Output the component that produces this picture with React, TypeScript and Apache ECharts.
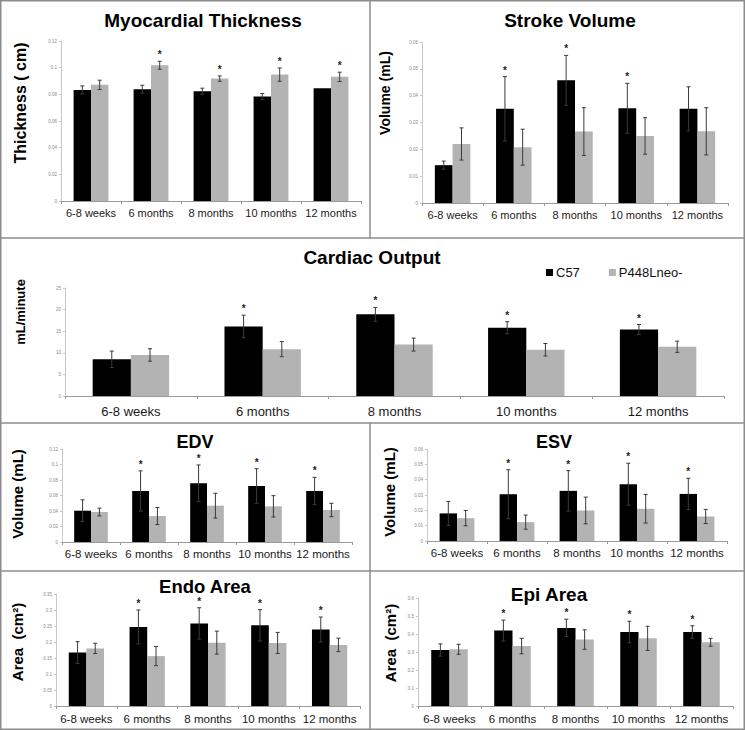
import React, { useEffect, useRef } from "react";
import * as echarts from "echarts";

const categories = ["6-8 weeks", "6 months", "8 months", "10 months", "12 months"];
const seriesNames = ["C57", "P448Lneo-"];

const thicknessC57 = [0.0833, 0.0838, 0.0823, 0.0783, 0.0846];
const thicknessC57Err = [0.003, 0.003, 0.0023, 0.0023, 0];
const thicknessP448 = [0.0871, 0.1018, 0.0918, 0.0948, 0.0931];
const thicknessP448Err = [0.0035, 0.003, 0.002, 0.005, 0.0035];
const thicknessStarsP448 = [0, 1, 1, 1, 1];

const svC57 = [0.0141, 0.0351, 0.0457, 0.0353, 0.0351];
const svC57Err = [0.0015, 0.012, 0.0093, 0.0093, 0.0082];
const svP448 = [0.022, 0.0208, 0.0266, 0.025, 0.0267];
const svP448Err = [0.006, 0.0067, 0.0089, 0.0068, 0.0088];
const svStarsC57 = [0, 1, 1, 1, 0];

const coC57 = [8.5, 16.1, 18.9, 15.8, 15.4];
const coC57Err = [1.9, 2.6, 1.6, 1.4, 1.15];
const coP448 = [9.5, 10.85, 11.9, 10.7, 11.4];
const coP448Err = [1.45, 1.75, 1.5, 1.45, 1.3];
const coStarsC57 = [0, 1, 1, 1, 1];

const edvC57 = [0.0404, 0.0658, 0.0757, 0.0723, 0.0658];
const edvC57Err = [0.014, 0.026, 0.0237, 0.0223, 0.0176];
const edvP448 = [0.0387, 0.0335, 0.0469, 0.046, 0.0413];
const edvP448Err = [0.005, 0.011, 0.016, 0.0138, 0.0086];
const edvStarsC57 = [0, 1, 1, 1, 1];

const esvC57 = [0.018, 0.0305, 0.0327, 0.037, 0.0307];
const esvC57Err = [0.0078, 0.016, 0.0132, 0.0137, 0.0102];
const esvP448 = [0.0149, 0.0123, 0.0199, 0.021, 0.016];
const esvP448Err = [0.005, 0.0046, 0.0087, 0.0093, 0.0046];
const esvStarsC57 = [0, 1, 1, 1, 1];

const endoC57 = [0.167, 0.247, 0.258, 0.252, 0.239];
const endoC57Err = [0.034, 0.053, 0.049, 0.049, 0.039];
const endoP448 = [0.18, 0.156, 0.198, 0.197, 0.191];
const endoP448Err = [0.016, 0.03, 0.036, 0.033, 0.021];
const endoStarsC57 = [0, 1, 1, 1, 1];

const epiC57 = [0.311, 0.419, 0.434, 0.411, 0.411];
const epiC57Err = [0.034, 0.058, 0.048, 0.06, 0.035];
const epiP448 = [0.315, 0.333, 0.369, 0.376, 0.354];
const epiP448Err = [0.028, 0.043, 0.054, 0.067, 0.022];
const epiStarsC57 = [0, 1, 1, 1, 1];

const noStars = [0, 0, 0, 0, 0];

const FONT = "'Liberation Sans', Arial, sans-serif";
const BAR_FRAC = 0.29;

type Panel = {
  title: string;
  yName: string;
  c57: number[];
  c57Err: number[];
  p448: number[];
  p448Err: number[];
  starsC57: number[];
  starsP448: number[];
  max: number;
  interval: number;
  grid: { left: number; top: number; width: number; height: number };
  titlePos: [number, number];
  titleSize: number;
  yNamePos: [number, number];
  yNameSize: number;
  xLabelSize: number;
  xLabelMargin: number;
};

const panels: Panel[] = [
  {
    title: "Myocardial Thickness", yName: "Thickness ( cm)",
    c57: thicknessC57, c57Err: thicknessC57Err, p448: thicknessP448, p448Err: thicknessP448Err,
    starsC57: noStars, starsP448: thicknessStarsP448, max: 0.12, interval: 0.02,
    grid: { left: 61, top: 41, width: 300, height: 160 },
    titlePos: [203, 20], titleSize: 19, yNamePos: [20, 103], yNameSize: 16, xLabelSize: 11, xLabelMargin: 6,
  },
  {
    title: "Stroke Volume", yName: "Volume (mL)",
    c57: svC57, c57Err: svC57Err, p448: svP448, p448Err: svP448Err,
    starsC57: svStarsC57, starsP448: noStars, max: 0.06, interval: 0.01,
    grid: { left: 422, top: 42, width: 306, height: 161 },
    titlePos: [570, 20], titleSize: 19, yNamePos: [385, 93], yNameSize: 14, xLabelSize: 11, xLabelMargin: 6,
  },
  {
    title: "Cardiac Output", yName: "mL/minute",
    c57: coC57, c57Err: coC57Err, p448: coP448, p448Err: coP448Err,
    starsC57: coStarsC57, starsP448: noStars, max: 25, interval: 5,
    grid: { left: 65, top: 288, width: 659, height: 108 },
    titlePos: [372, 257], titleSize: 19, yNamePos: [20, 312], yNameSize: 13, xLabelSize: 13, xLabelMargin: 9,
  },
  {
    title: "EDV", yName: "Volume (mL)",
    c57: edvC57, c57Err: edvC57Err, p448: edvP448, p448Err: edvP448Err,
    starsC57: edvStarsC57, starsP448: noStars, max: 0.12, interval: 0.02,
    grid: { left: 62, top: 449, width: 290, height: 93 },
    titlePos: [195, 442], titleSize: 18, yNamePos: [17, 494], yNameSize: 15, xLabelSize: 11.5, xLabelMargin: 6,
  },
  {
    title: "ESV", yName: "Volume (mL)",
    c57: esvC57, c57Err: esvC57Err, p448: esvP448, p448Err: esvP448Err,
    starsC57: esvStarsC57, starsP448: noStars, max: 0.06, interval: 0.01,
    grid: { left: 427, top: 449, width: 300, height: 92 },
    titlePos: [554, 442], titleSize: 18, yNamePos: [389, 492], yNameSize: 15, xLabelSize: 11.5, xLabelMargin: 6,
  },
  {
    title: "Endo Area", yName: "Area  (cm²)",
    c57: endoC57, c57Err: endoC57Err, p448: endoP448, p448Err: endoP448Err,
    starsC57: endoStarsC57, starsP448: noStars, max: 0.35, interval: 0.05,
    grid: { left: 56, top: 594, width: 304, height: 112 },
    titlePos: [205, 586], titleSize: 18.5, yNamePos: [17, 642], yNameSize: 15, xLabelSize: 11.5, xLabelMargin: 7,
  },
  {
    title: "Epi Area", yName: "Area  (cm²)",
    c57: epiC57, c57Err: epiC57Err, p448: epiP448, p448Err: epiP448Err,
    starsC57: epiStarsC57, starsP448: noStars, max: 0.6, interval: 0.1,
    grid: { left: 418, top: 598, width: 315, height: 108 },
    titlePos: [549, 594], titleSize: 19, yNamePos: [390, 643], yNameSize: 15, xLabelSize: 11.5, xLabelMargin: 7,
  },
];

function buildOption() {
  const grid: any[] = [];
  const xAxis: any[] = [];
  const yAxis: any[] = [];
  const series: any[] = [];
  const graphic: any[] = [];

  panels.forEach((p, i) => {
    grid.push({ ...p.grid, containLabel: false });
    xAxis.push({
      type: "category",
      gridIndex: i,
      data: categories,
      boundaryGap: true,
      axisLine: { lineStyle: { color: "#9a9a9a", width: 1 } },
      axisTick: { show: true, length: 3, lineStyle: { color: "#9a9a9a" } },
      axisLabel: { fontSize: p.xLabelSize, color: "#1a1a1a", margin: p.xLabelMargin, fontFamily: FONT, interval: 0 },
      splitLine: { show: false },
    });
    yAxis.push({
      type: "value",
      gridIndex: i,
      min: 0,
      max: p.max,
      interval: p.interval,
      axisLine: { show: true, lineStyle: { color: "#c8c8c8", width: 1 } },
      axisTick: { show: true, length: 2, lineStyle: { color: "#c8c8c8" } },
      axisLabel: { fontSize: 4.5, color: "#8a8a8a", margin: 4, fontFamily: FONT },
      splitLine: { show: false },
    });
    series.push({
      type: "bar",
      name: seriesNames[0],
      xAxisIndex: i,
      yAxisIndex: i,
      data: p.c57,
      barWidth: BAR_FRAC * 100 + "%",
      barGap: "0%",
      itemStyle: { color: "#000000" },
    });
    series.push({
      type: "bar",
      name: seriesNames[1],
      xAxisIndex: i,
      yAxisIndex: i,
      data: p.p448,
      barWidth: BAR_FRAC * 100 + "%",
      barGap: "0%",
      itemStyle: { color: "#b3b3b3" },
    });
    const errData: number[][] = [];
    categories.forEach((_, ci) => {
      errData.push([ci, p.c57[ci], p.c57Err[ci], 0, p.starsC57[ci]]);
      errData.push([ci, p.p448[ci], p.p448Err[ci], 1, p.starsP448[ci]]);
    });
    series.push({
      type: "custom",
      xAxisIndex: i,
      yAxisIndex: i,
      data: errData,
      encode: { x: 0, y: 1 },
      z: 5,
      silent: true,
      renderItem: (params: any, api: any) => {
        const ci = api.value(0);
        const v = api.value(1);
        const e = api.value(2);
        const s = api.value(3);
        const star = api.value(4);
        const band = api.size([1, 0])[0];
        const bw = band * BAR_FRAC;
        const cx = api.coord([ci, 0])[0] + (s === 0 ? -bw / 2 : bw / 2);
        const yTop = api.coord([ci, v + e])[1];
        const yBot = api.coord([ci, v - e])[1];
        const children: any[] = [];
        const ls = { stroke: "#3a3a3a", lineWidth: 1 };
        if (e > 0) {
          children.push({ type: "line", shape: { x1: cx, y1: yTop, x2: cx, y2: yBot }, style: ls });
          children.push({ type: "line", shape: { x1: cx - 2, y1: yTop, x2: cx + 2, y2: yTop }, style: ls });
          children.push({ type: "line", shape: { x1: cx - 2, y1: yBot, x2: cx + 2, y2: yBot }, style: ls });
        }
        if (star) {
          children.push({
            type: "text",
            style: {
              text: "*",
              x: cx,
              y: yTop - 1.5,
              align: "center",
              verticalAlign: "bottom",
              textAlign: "center",
              textVerticalAlign: "bottom",
              font: "bold 10px " + FONT,
              fill: "#222",
            },
          });
        }
        return { type: "group", children };
      },
    });

    graphic.push({
      type: "text",
      x: p.titlePos[0],
      y: p.titlePos[1],
      style: {
        text: p.title,
        font: "bold " + p.titleSize + "px " + FONT,
        fill: "#000",
        align: "center",
        verticalAlign: "middle",
        textAlign: "center",
        textVerticalAlign: "middle",
      },
    });
    graphic.push({
      type: "text",
      x: p.yNamePos[0],
      y: p.yNamePos[1],
      rotation: Math.PI / 2,
      style: {
        text: p.yName,
        font: "bold " + p.yNameSize + "px " + FONT,
        fill: "#000",
        align: "center",
        verticalAlign: "middle",
        textAlign: "center",
        textVerticalAlign: "middle",
      },
    });
  });

  const border = { stroke: "#8c8c8c", lineWidth: 1.5 };
  graphic.push({ type: "rect", shape: { x: 0.75, y: 0.75, width: 743.5, height: 728.5 }, style: { ...border, fill: "none" }, silent: true });
  graphic.push({ type: "line", shape: { x1: 0, y1: 238, x2: 745, y2: 238 }, style: border, silent: true });
  graphic.push({ type: "line", shape: { x1: 0, y1: 423, x2: 745, y2: 423 }, style: border, silent: true });
  graphic.push({ type: "line", shape: { x1: 0, y1: 571, x2: 745, y2: 571 }, style: border, silent: true });
  graphic.push({ type: "line", shape: { x1: 370, y1: 0, x2: 370, y2: 238 }, style: border, silent: true });
  graphic.push({ type: "line", shape: { x1: 370, y1: 423, x2: 370, y2: 730 }, style: border, silent: true });

  return {
    animation: false,
    backgroundColor: "#ffffff",
    textStyle: { fontFamily: FONT },
    grid,
    xAxis,
    yAxis,
    series,
    graphic,
    legend: {
      data: seriesNames,
      left: 546,
      top: 266,
      icon: "rect",
      itemWidth: 7,
      itemHeight: 7,
      itemGap: 29,
      padding: 0,
      selectedMode: false,
      textStyle: { fontSize: 13, color: "#111", fontFamily: FONT, padding: [0, 0, 0, -2] },
    },
  };
}

export default function App() {
  const ref = useRef<HTMLDivElement>(null);
  useEffect(() => {
    document.body.style.margin = "0";
    if (!ref.current) return;
    const chart = echarts.init(ref.current, undefined, { renderer: "svg" });
    chart.setOption(buildOption() as any);
    return () => chart.dispose();
  }, []);
  return <div ref={ref} style={{ width: 745, height: 730 }} />;
}
